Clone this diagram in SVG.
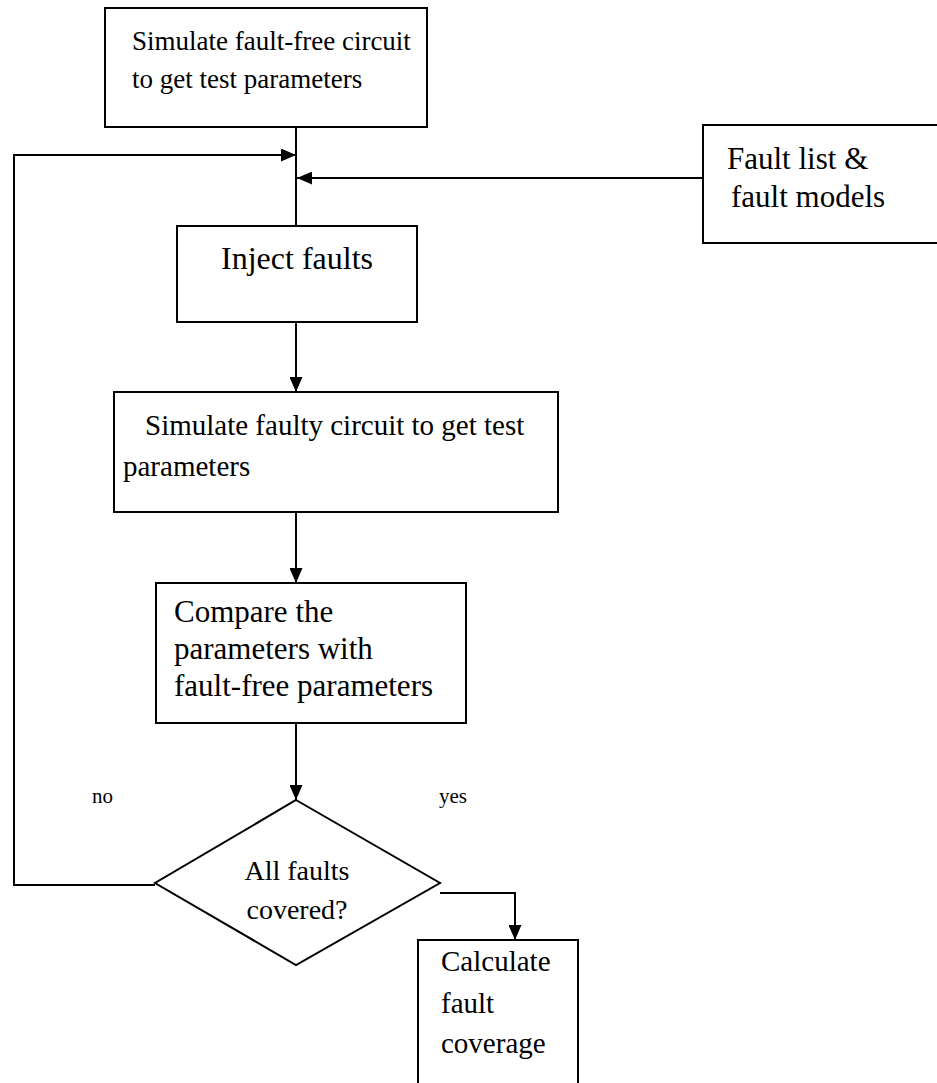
<svg xmlns="http://www.w3.org/2000/svg" width="937" height="1083" viewBox="0 0 937 1083">
<style>
.box{fill:#fff;stroke:#000;stroke-width:2}
.ln{fill:none;stroke:#000;stroke-width:2}
text{font-family:"Liberation Serif","Times New Roman",serif;font-size:28px;fill:#000}
.lbl{font-size:21px}
</style>
<defs>
<marker id="ah" viewBox="0 0 15 13" refX="15" refY="6.5" markerWidth="15" markerHeight="13" markerUnits="userSpaceOnUse" orient="auto">
<path d="M0,0 L15,6.5 L0,13 Z" fill="#000"/>
</marker>
</defs>
<rect width="937" height="1083" fill="#fff"/>
<g id="connectors">
<path class="ln" d="M296,127 V258" marker-end="url(#ah)"/>
<path class="ln" d="M155,885 H14 V155 H296" marker-end="url(#ah)"/>
<path class="ln" d="M703,178 H297" marker-end="url(#ah)"/>
<path class="ln" d="M296,322 V392" marker-end="url(#ah)"/>
<path class="ln" d="M296,512 V583" marker-end="url(#ah)"/>
<path class="ln" d="M296,723 V800" marker-end="url(#ah)"/>
<path class="ln" d="M440,893 H515 V940" marker-end="url(#ah)"/>
</g>
<g id="n1">
<rect class="box" x="105" y="8" width="322" height="119"/>
<text x="132" y="50" style="font-size:27px">Simulate fault-free circuit</text>
<text x="132" y="88" style="font-size:27px">to get test parameters</text>
</g>
<g id="n2">
<rect class="box" x="703" y="125" width="240" height="118"/>
<text x="727" y="169" style="font-size:31px">Fault list &amp;</text>
<text x="731" y="207" style="font-size:31px">fault models</text>
</g>
<g id="n3">
<rect class="box" x="177" y="226" width="240" height="96"/>
<text x="297" y="269" text-anchor="middle" style="font-size:32px">Inject faults</text>
</g>
<g id="n4">
<rect class="box" x="114" y="392" width="444" height="120"/>
<text x="145" y="435" style="font-size:29px">Simulate faulty circuit to get test</text>
<text x="123" y="476" style="font-size:29px">parameters</text>
</g>
<g id="n5">
<rect class="box" x="156" y="583" width="310" height="140"/>
<text x="174" y="622" style="font-size:31px">Compare the</text>
<text x="174" y="659" style="font-size:31px">parameters with</text>
<text x="174" y="696" style="font-size:31px">fault-free parameters</text>
</g>
<g id="n6">
<path class="box" d="M296,800 L440,883 L296,965 L155,883 Z"/>
<text x="297" y="880" text-anchor="middle">All faults</text>
<text x="297" y="919" text-anchor="middle">covered?</text>
</g>
<g id="n7">
<path class="box" d="M418,1090 V940 H578 V1090"/>
<text x="441" y="971" style="font-size:29px">Calculate</text>
<text x="441" y="1013" style="font-size:29px">fault</text>
<text x="441" y="1053" style="font-size:29px">coverage</text>
</g>
<text class="lbl" x="92" y="803">no</text>
<text class="lbl" x="439" y="803">yes</text>
</svg>
